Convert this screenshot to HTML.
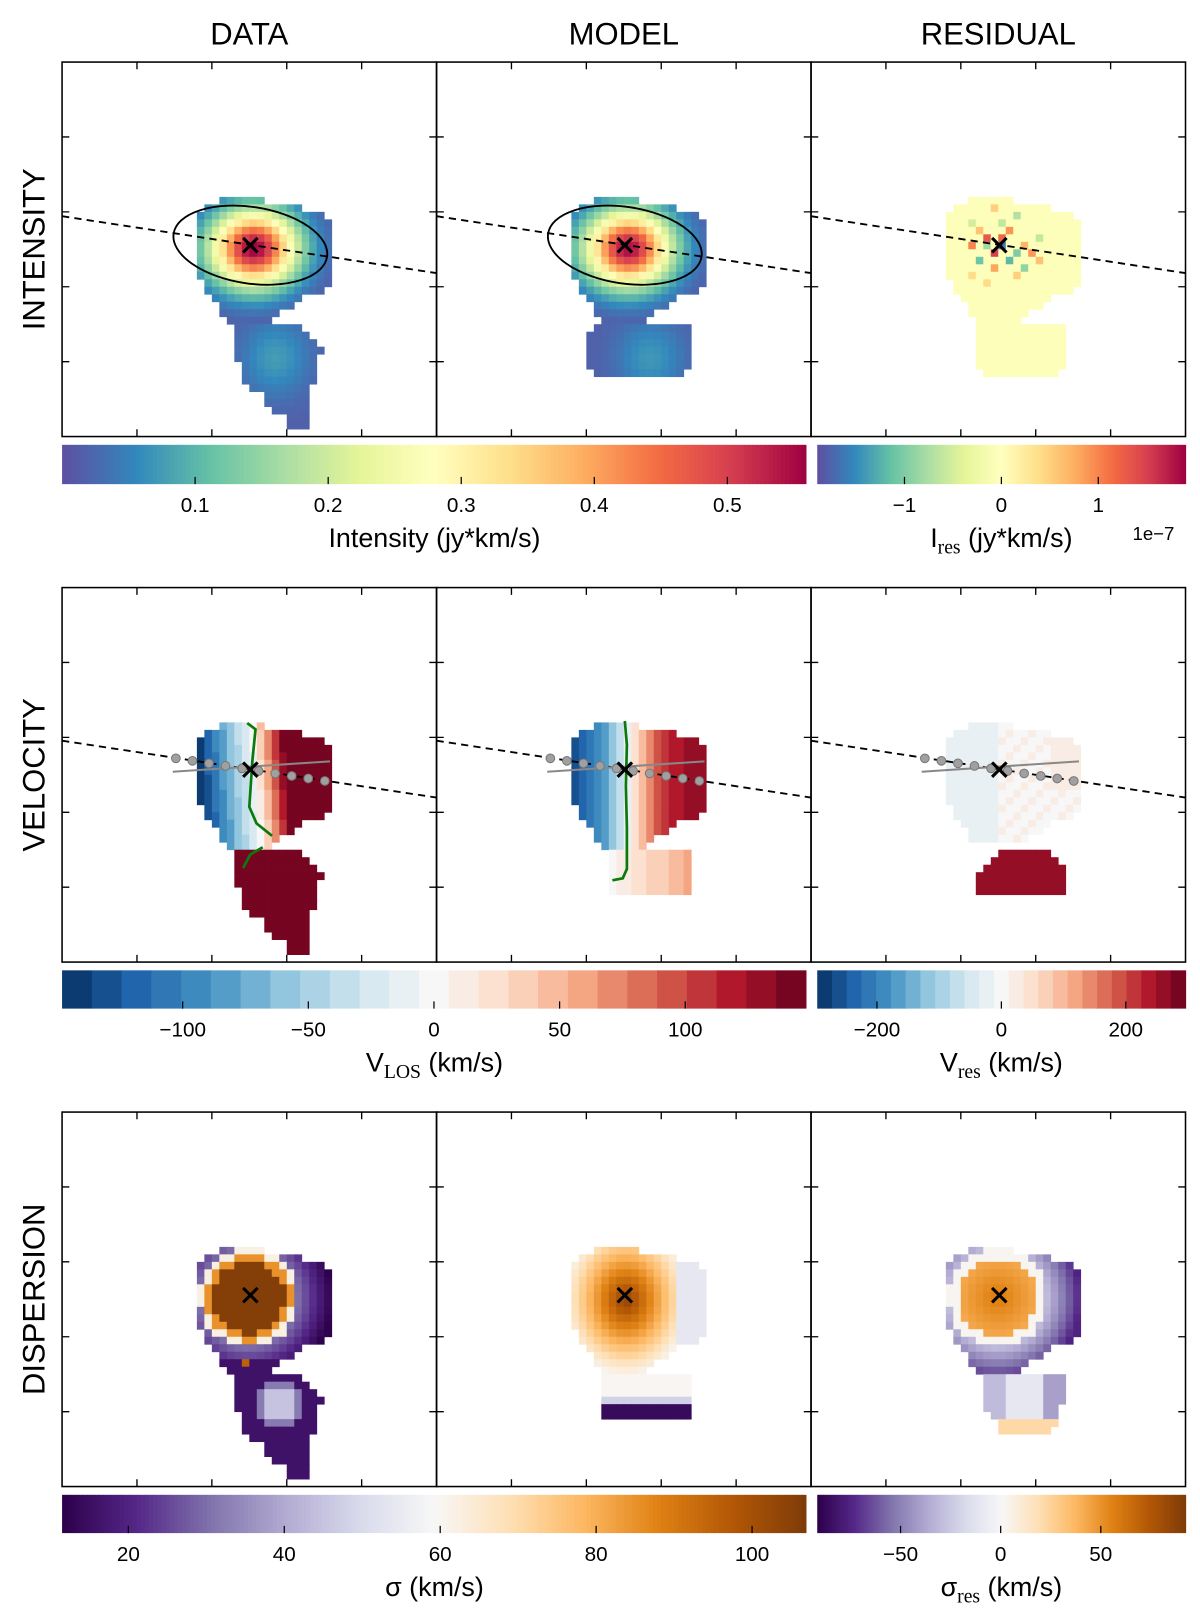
<!DOCTYPE html>
<html><head><meta charset="utf-8">
<style>
html,body{margin:0;padding:0;background:#fff;overflow:hidden;width:1200px;height:1618px}
#wrap{transform:scale(1.03448);transform-origin:0 0;width:1160px;height:1564px}
text{font-family:"Liberation Sans","DejaVu Sans",sans-serif;fill:#000}
.sub{font-family:"Liberation Serif",serif}
</style></head>
<body>
<div id="wrap">
<svg id="fig" width="1160" height="1564" viewBox="0 0 1160 1564" xmlns="http://www.w3.org/2000/svg">
<g id="maps"></g>
<g id="overlays"></g>
<g id="axes"></g>
<g id="labels">
<text x="241" y="43" font-size="30" text-anchor="middle">DATA</text>
<text x="603" y="43" font-size="30" text-anchor="middle">MODEL</text>
<text x="965" y="43" font-size="30" text-anchor="middle">RESIDUAL</text>
<text transform="translate(43,241) rotate(-90)" font-size="30" text-anchor="middle">INTENSITY</text>
<text transform="translate(43,749) rotate(-90)" font-size="30" text-anchor="middle">VELOCITY</text>
<text transform="translate(43,1256) rotate(-90)" font-size="30" text-anchor="middle">DISPERSION</text>
<text x="420" y="529" font-size="26" text-anchor="middle">Intensity (jy*km/s)</text>
<text x="968" y="529" font-size="26" text-anchor="middle">I<tspan class="sub" font-size="19" dy="6">res</tspan><tspan dy="-6"> (jy*km/s)</tspan></text>
<text x="1115" y="522" font-size="18" text-anchor="middle">1e−7</text>
<text x="420" y="1036" font-size="26" text-anchor="middle">V<tspan class="sub" font-size="19" dy="6">LOS</tspan><tspan dy="-6"> (km/s)</tspan></text>
<text x="968" y="1036" font-size="26" text-anchor="middle">V<tspan class="sub" font-size="19" dy="6">res</tspan><tspan dy="-6"> (km/s)</tspan></text>
<text x="420" y="1543" font-size="26" text-anchor="middle">σ (km/s)</text>
<text x="968" y="1543" font-size="26" text-anchor="middle">σ<tspan class="sub" font-size="19" dy="6">res</tspan><tspan dy="-6"> (km/s)</tspan></text>
</g>
</svg>
</div>
<script>
// ---------------- data ----------------
const SPECTRAL = ['#5e4fa2','#3288bd','#66c2a5','#abdda4','#e6f598','#ffffbf','#fee08b','#fdae61','#f46d43','#d53e4f','#9e0142'];
const RDBU = ['#053061','#2166ac','#4393c3','#92c5de','#d1e5f0','#f7f7f7','#fddbc7','#f4a582','#d6604d','#b2182b','#67001f'];
const PUOR = ['#2d004b','#542788','#8073ac','#b2abd2','#d8daeb','#f7f7f7','#fee0b6','#fdb863','#e08214','#b35806','#7f3b08'];

// masks: [row, firstCol, lastCol]
const upperSpans = [[18,21,26],[19,19,31],[20,18,34],[21,18,35],[22,18,35],[23,18,35],[24,18,35],[25,18,35],[26,18,35],[27,18,35],[28,18,35],[29,19,35],[30,19,34],[31,20,31],[32,21,30],[33,21,28],[34,22,27]];
const dataLowerSpans = [[35,23,31],[36,23,32],[37,23,33],[38,23,34],[39,23,33],[40,24,33],[41,24,33],[42,24,33],[43,25,32],[44,27,32],[45,27,32],[46,28,32],[47,30,32],[48,30,32]];
const modelIntLowerSpans = [[35,21,33],[36,20,33],[37,20,33],[38,20,33],[39,20,33],[40,20,33],[41,21,32]];
const resIntLowerSpans = [[35,22,33],[36,22,33],[37,22,33],[38,22,33],[39,22,33],[40,22,33],[41,23,32]];
const modelVelLowerSpans = [[35,23,33],[36,23,33],[37,23,33],[38,23,33],[39,23,33],[40,23,33]];
const resVelLowerSpans = [[35,25,31],[36,24,32],[37,23,33],[38,22,33],[39,22,33],[40,22,33]];
const modelDispLowerSpans = [[35,22,33],[36,22,33],[37,22,33],[38,22,33],[39,22,33],[40,22,33]];
const resDispLowerSpans = [[35,23,33],[36,23,33],[37,23,33],[38,23,33],[39,23,32],[40,24,32],[41,25,32],[42,25,31]];

// model parameters
const centerCell = [25.1, 24.4];
const intensityPeak = [0.55, 0.54];
const intensityWidth = [4.0, 3.5];
const lowerBlobIntensity = [0.06, 0.055];
const lowerBlobCenter = [28, 39];
const residualNoise = [[0,0,-1.6],[-1,0,1.2],[1,-1,1.5],[0,-2,-0.8],[2,1,-1.2],[-2,1,0.9],[1,2,-1.0],[-1,-2,1.3],[0,3,0.7],[3,-1,0.8],[-3,0,-0.6],[2,-3,-1.1],[-2,-3,0.6],[0,-4,1.0],[4,2,0.5],[-4,2,-0.7],[1,4,0.9],[3,3,-0.9],[-3,-4,-0.5],[5,-2,0.4],[-1,5,-0.6],[2,5,0.6],[-5,-1,0.5],[4,-4,0.4]];
const velSlopeBlue = [19, 0];
const velSlopeRed = [35, 0];
const velModelAmp = [135];
const dispRings = [4.8, 5.8, 6.6];
const dispRingValues = [106, 85, 62, 30];

// colourbar ticks
const intTicks = [0.1,0.2,0.3,0.4,0.5], intRange=[0.0,0.559];
const iresTicks = [-1,0,1], iresRange=[-1.9,1.9];
const vTicks = [-100,-50,0,50,100], vRange=[-148,148];
const vresTicks = [-200,0,200], vresRange=[-296,296];
const sTicks = [20,40,60,80,100], sRange=[11.5,106.9];
const sresTicks = [-50,0,50], sresRange=[-91.6,92.3];

// ---------------- helpers ----------------
const NS='http://www.w3.org/2000/svg';
const CELL=362/50;
const COLX=[60,422,784], ROWY=[60,568,1075];
function hex2rgb(h){return [parseInt(h.substr(1,2),16),parseInt(h.substr(3,2),16),parseInt(h.substr(5,2),16)];}
function cmap(stops,t){t=Math.max(0,Math.min(1,t));const x=t*(stops.length-1);const i=Math.min(Math.floor(x),stops.length-2);const f=x-i;const a=hex2rgb(stops[i]),b=hex2rgb(stops[i+1]);return 'rgb('+a.map((v,k)=>Math.round(v+(b[k]-v)*f)).join(',')+')';}
function colorFor(stops,v,range,bins){let t=(v-range[0])/(range[1]-range[0]);t=Math.max(0,Math.min(0.9999,t));if(bins){t=(Math.floor(t*bins)+0.5)/bins;}return cmap(stops,t);}
function el(tag,attrs,parent){const e=document.createElementNS(NS,tag);for(const k in attrs)e.setAttribute(k,attrs[k]);parent.appendChild(e);return e;}
const mapsG=document.getElementById('maps'), ovG=document.getElementById('overlays'), axG=document.getElementById('axes');

function drawMap(name,col,row,spans,fn,stops,range,bins){
  const g=el('g',{},mapsG);
  
  
  for(const s of spans){
    for(let c=s[1];c<=s[2];c++){
      const v=fn(s[0],c);
      const r=el('rect',{x:(COLX[col]+c*CELL).toFixed(2),y:(ROWY[row]+s[0]*CELL).toFixed(2),width:(CELL+0.4).toFixed(2),height:(CELL+0.4).toFixed(2),fill:colorFor(stops,v,range,bins)},g);
      
      
    }
  }
}
function dist(r,c,cc,cr,sx,sy){const dx=(c-cc)/sx,dy=(r-cr)/sy;return Math.sqrt(dx*dx+dy*dy);}

// ---------------- intensity ----------------
const allData=upperSpans.concat(dataLowerSpans);
function intFn(k){return (r,c)=>{
  if(r>=35){const d=dist(r,c,lowerBlobCenter[0],lowerBlobCenter[1],3.2,3.6);return 0.015+lowerBlobIntensity[k]*Math.exp(-d*d/2);}
  const dx=(c-centerCell[0]),dy=(r-centerCell[1]);
  return 0.01+intensityPeak[k]*Math.exp(-(dx*dx)/(2*intensityWidth[0]**2)-(dy*dy)/(2*intensityWidth[1]**2));
  };}
drawMap('intensity-data-map',0,0,allData,intFn(0),SPECTRAL,intRange,0);
drawMap('intensity-model-map',1,0,upperSpans.concat(modelIntLowerSpans),intFn(1),SPECTRAL,intRange,0);
const noiseMap={};for(const n of residualNoise){noiseMap[(24+n[0])+','+(25+n[1])]=n[2];}
drawMap('intensity-residual-map',2,0,upperSpans.concat(resIntLowerSpans),(r,c)=>{const k=r+','+c;return k in noiseMap?noiseMap[k]:-0.05;},SPECTRAL,iresRange,0);

// ---------------- velocity ----------------
drawMap('velocity-data-map',0,1,allData,(r,c)=>{
  if(r>=35)return 200;
  const x=c-25.5-(r-24)*0.08;
  return x<0?x*velSlopeBlue[0]:x*velSlopeRed[0]+8;},RDBU,vRange,25);
drawMap('velocity-model-map',1,1,upperSpans.concat(modelVelLowerSpans),(r,c)=>{
  if(r>=35)return 5+(c-23)*5;
  return velModelAmp[0]*Math.tanh((c-25.3)/4.5);},RDBU,vRange,25);
drawMap('velocity-residual-map',2,1,upperSpans.slice(0,16).concat(resVelLowerSpans),(r,c)=>{
  if(r>=35)return 250;
  if(c<21)return -35; if(c>31&&r<27)return 30; if(c<25)return -15; return (r+c)%3===0?20:8;},RDBU,vresRange,25);

// ---------------- dispersion ----------------
drawMap('dispersion-data-map',0,2,allData,(r,c)=>{
  if(r>=33){const d=dist(r,c,28.5,38.5,1,1);if(r===33&&c===24)return 95;return d<2.2?45:(d<3.5?32:16);}
  const d=dist(r,c,24.4,24.3,1,1);
  if(d<dispRings[0])return dispRingValues[0];
  if(d<dispRings[1])return dispRingValues[1];
  if(d<dispRings[2])return dispRingValues[2];
  return Math.max(12,dispRingValues[3]-(d-dispRings[2])*4);},PUOR,sRange,0);
drawMap('dispersion-model-map',1,2,upperSpans.concat(modelDispLowerSpans),(r,c)=>{
  if(r>=39)return 14; if(r===38)return 48; if(r>=35)return 60;
  const d=dist(r,c,24.8,24.6,1,1.2);
  if(c>=32)return 54;
  return Math.max(60,104-d*5.2);},PUOR,sRange,0);
drawMap('dispersion-residual-map',2,2,upperSpans.concat(resDispLowerSpans),(r,c)=>{
  if(r>=41)return 22; if(r>=35){return (c<26)?-30:(c>30?-40:-10);}
  const d=dist(r,c,24.4,24.3,1,1);
  if(d<5.2)return 58-d*3;
  if(d<6.6)return 2;
  return Math.max(-75,-30-(d-6.6)*10);},PUOR,sresRange,0);

// ---------------- overlays ----------------
const slope=55/362;
const centers=[[242,237],[604,237],[966,237],[242,744],[604,744],[966,744],[242,1252],[604,1252],[966,1252]];
function dashed(col,row,name){
  const x0=COLX[col],y0=ROWY[row]+(row===0?149:148);
  const l=el('line',{x1:x0,y1:y0,x2:x0+362,y2:y0+362*slope,stroke:'#000','stroke-width':1.8,'stroke-dasharray':'7,5'},ovG);
  
  
}
dashed(0,0,'pa-line-data');dashed(1,0,'pa-line-model');dashed(2,0,'pa-line-residual');
dashed(0,1,'pa-line-vdata');dashed(1,1,'pa-line-vmodel');dashed(2,1,'pa-line-vresidual');
[[242,237],[604,237]].forEach((p,i)=>{
  const e=el('ellipse',{cx:p[0],cy:p[1],rx:75,ry:37,fill:'none',stroke:'#000','stroke-width':1.8,transform:`rotate(8.6 ${p[0]} ${p[1]})`},ovG);
  
  
});
const pvOffsets=[-72,-56,-40,-24,-8,8,24,40,56,72];
[242,604,966].forEach(cx=>{
  const gl=el('line',{x1:cx-75,y1:746,x2:cx+77,y2:736,stroke:'#888','stroke-width':2},ovG);
  
  
  pvOffsets.forEach(o=>{
    const c=el('circle',{cx:cx+o,cy:744+o*slope,r:4.2,fill:'#a0a0a0',stroke:'#777','stroke-width':1},ovG);
    
    
  });
});
const g1=el('polyline',{points:'239,699 247,705 244,735 241,780 248,796 263,808',fill:'none',stroke:'#0a7a0a','stroke-width':2.6},ovG);


const g2=el('polyline',{points:'254,819 242,826 235,839',fill:'none',stroke:'#0a7a0a','stroke-width':2.6},ovG);


const g3=el('polyline',{points:'604,697 606,720 605,760 606,800 606,840 602,849 592,851',fill:'none',stroke:'#0a7a0a','stroke-width':2.6},ovG);


centers.forEach(p=>{
  const m=el('path',{d:`M${p[0]-7},${p[1]-7}L${p[0]+7},${p[1]+7}M${p[0]+7},${p[1]-7}L${p[0]-7},${p[1]+7}`,stroke:'#000','stroke-width':3,fill:'none'},ovG);
  
  
});

// ---------------- panel frames & ticks ----------------
const tickCells=[10,20,30,40];
for(let r=0;r<3;r++)for(let c=0;c<3;c++){
  const x=COLX[c],y=ROWY[r];
  const f=el('rect',{x:x,y:y,width:362,height:362,fill:'none',stroke:'#000','stroke-width':1.5},axG);
  
  
  tickCells.forEach(t=>{
    const p=t*CELL;
    el('path',{d:`M${x+p},${y}v7M${x+p},${y+362}v-7M${x},${y+p}h7M${x+362},${y+p}h-7`,stroke:'#000','stroke-width':1.3},axG);
  });
}

// ---------------- colourbars ----------------
const CB=[[60,779],[790,1146]], CBY=[[430,468],[938,975],[1445,1482]];
function colorbar(name,slot,row,stops,range,bins,ticks,fmt){
  const x0=CB[slot][0],x1=CB[slot][1],y0=CBY[row][0],y1=CBY[row][1];
  const g=el('g',{},axG);
  
  
  const N=bins||180;
  for(let i=0;i<N;i++){
    const v=range[0]+(i+0.5)/N*(range[1]-range[0]);
    el('rect',{x:x0+i*(x1-x0)/N,y:y0,width:(x1-x0)/N+0.6,height:y1-y0,fill:colorFor(stops,v,range,bins)},g);
  }
  ticks.forEach(t=>{
    const tx=x0+(t-range[0])/(range[1]-range[0])*(x1-x0);
    el('line',{x1:tx,y1:y1,x2:tx,y2:y1-7,stroke:'#000','stroke-width':1.2},g);
    const tt=el('text',{x:tx,y:y1+27,'font-size':20,'text-anchor':'middle'},g);
    tt.textContent=fmt(t);
    
    
  });
}
const fmtNum=t=>(t<0?'−':'')+Math.abs(t);
colorbar('intensity-colorbar',0,0,SPECTRAL,intRange,0,intTicks,t=>t.toFixed(1));
colorbar('ires-colorbar',1,0,SPECTRAL,iresRange,0,iresTicks,fmtNum);
colorbar('vlos-colorbar',0,1,RDBU,vRange,25,vTicks,fmtNum);
colorbar('vres-colorbar',1,1,RDBU,vresRange,25,vresTicks,fmtNum);
colorbar('sigma-colorbar',0,2,PUOR,sRange,0,sTicks,fmtNum);
colorbar('sigmares-colorbar',1,2,PUOR,sresRange,0,sresTicks,fmtNum);
</script>
</body></html>
